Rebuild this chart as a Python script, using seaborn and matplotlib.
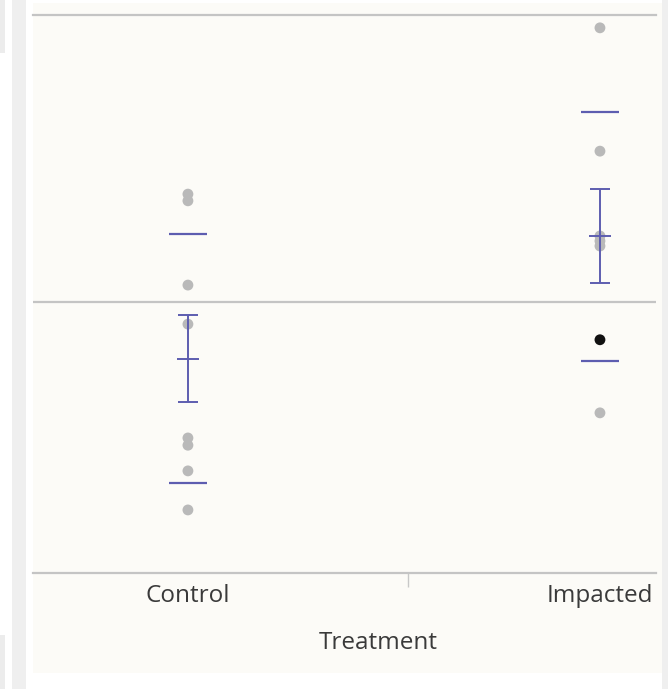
import matplotlib
matplotlib.use("Agg")
import matplotlib.pyplot as plt
from matplotlib.patches import Rectangle
import numpy as np
import pandas as pd
import seaborn as sns

sns.set_theme(style="white")
plt.rcParams["font.family"] = ["Open Sans", "DejaVu Sans"]

# --------------------------------------------------------------------------- #
# Data (response axis is hidden in the original; values on a 0-100 frame)
# --------------------------------------------------------------------------- #
groups = ["Control", "Impacted"]
control_vals = [67.9, 66.7, 51.6, 44.6, 24.2, 22.9, 18.3, 11.3]
impacted_vals = [97.7, 75.6, 60.4, 59.5, 58.6, 41.8, 28.7]
impacted_selected = [False, False, False, False, False, True, False]
frame_range = (0, 100)

df = pd.DataFrame({
    "Treatment": ["Control"] * len(control_vals) + ["Impacted"] * len(impacted_vals),
    "Response": control_vals + impacted_vals,
    "selected": [False] * len(control_vals) + impacted_selected,
})

W, H = 668, 689
fig = plt.figure(figsize=(W / 100, H / 100), dpi=100, facecolor="white")


def px_rect(x0, y0, x1, y1, color):
    fig.add_artist(Rectangle((x0 / W, 1 - y1 / H), (x1 - x0) / W, (y1 - y0) / H,
                             transform=fig.transFigure, color=color, lw=0, zorder=-10))


# page background pieces around the report frame
px_rect(0, 0, 5, 53, "#ececec")
px_rect(0, 635, 5, H, "#ececec")
px_rect(12, 0, 26, H, "#efefef")
px_rect(662, 0, W, H, "#efefef")
px_rect(33, 3, 662, 673, "#fcfbf7")

ax = fig.add_axes([33 / W, 1 - 573 / H, (656 - 33) / W, (573 - 15) / H])
ax.set_facecolor("#fcfbf7")

sns.stripplot(data=df, x="Treatment", y="Response", hue="selected",
              palette={False: "#b9b9b9", True: "#111111"}, jitter=False,
              size=7.8, linewidth=0, legend=False, order=groups, ax=ax, zorder=3)

stats = df.groupby("Treatment")["Response"].agg(["mean", "std", "count"]).reindex(groups)
stats["se"] = stats["std"] / np.sqrt(stats["count"])
grand_mean = df["Response"].mean()

line_col = "#5d5db0"
ax.axhline(grand_mean, color="#c4c4c4", lw=1.6, zorder=1)
for i, g in enumerate(groups):
    m, sd, se = stats.loc[g, ["mean", "std", "se"]]
    ax.hlines([m - sd, m + sd], i - 0.046, i + 0.046, color=line_col, lw=1.6, zorder=4)
    ax.errorbar(i, m, yerr=se, fmt="_", color=line_col, ecolor=line_col,
                elinewidth=1.4, capsize=7.5, capthick=1.4, markersize=16,
                markeredgewidth=1.4, zorder=4)

ax.set_xlim(-0.376, 1.136)
ax.set_ylim(*frame_range)
ax.set_yticks([])
ax.set_ylabel("")

for side in ["left", "right"]:
    ax.spines[side].set_visible(False)
for side in ["top", "bottom"]:
    ax.spines[side].set_color("#c4c4c4")
    ax.spines[side].set_linewidth(1.6)

ax.tick_params(axis="x", which="major", length=0, pad=8, labelsize=17.5, labelcolor="#3a3a3a")
ax.set_xticks([0.534], minor=True)
ax.tick_params(axis="x", which="minor", bottom=True, length=10, width=1,
               color="#c8c8c8", direction="out")

ax.set_xlabel("Treatment", fontsize=17.5, color="#3a3a3a")
ax.xaxis.set_label_coords((378 - 33) / (656 - 33), (573 - 631) / (573 - 15))

fig.savefig("out.png", dpi=100, facecolor="white")
